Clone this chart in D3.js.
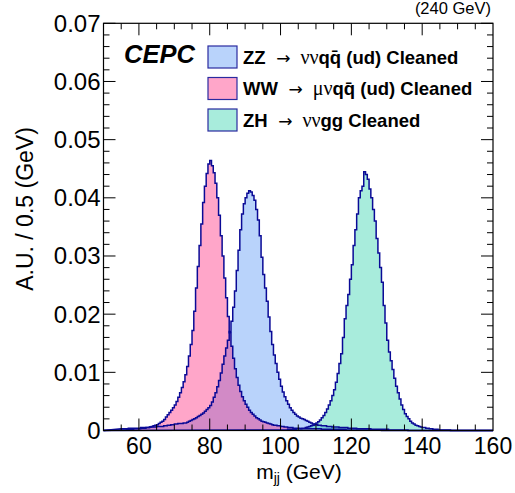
<!DOCTYPE html>
<html><head><meta charset="utf-8">
<script src="https://cdn.jsdelivr.net/npm/d3@7"></script>
<style>body{margin:0;background:#fff}svg{display:block}</style>
</head><body>
<script>
// ---- data ----
const binWidth = 0.5;
const xDomain = [50, 160];
const yDomain = [0, 0.07];
const xTicks = [60, 80, 100, 120, 140, 160];
const yTicks = [0, 0.01, 0.02, 0.03, 0.04, 0.05, 0.06, 0.07];
const yTickLabels = ["0", "0.01", "0.02", "0.03", "0.04", "0.05", "0.06", "0.07"];

const zzStart = 55;
const zzValues = [
 0.0003,0.0003,0.0003,0.0003,0.0004,0.0004,0.0004,0.0004,0.0004,0.0004,
 0.0004,0.0005,0.0005,0.0005,0.0005,0.0005,0.0006,0.0006,
 0.0006,0.0006,0.0007,0.0007,0.0007,0.0007,0.0008,0.0008,
 0.0009,0.0009,0.0010,0.0010,0.0011,0.0011,0.0012,0.0012,
 0.0012,0.0013,0.0013,0.0014,0.0016,0.0017,0.0019,0.0020,
 0.0022,0.0024,0.0026,0.0028,0.0030,0.0033,0.0036,0.0039,
 0.0043,0.0049,0.0057,0.0065,0.0075,0.0086,0.0099,0.0114,
 0.0128,0.0142,0.0155,0.0170,0.0188,0.0212,0.0240,0.0275,
 0.0310,0.0345,0.0372,0.0390,0.0400,0.0408,0.0412,0.0410,
 0.0404,0.0396,0.0380,0.0362,0.0335,0.0298,0.0268,0.0245,
 0.0222,0.0195,0.0170,0.0148,0.0130,0.0115,0.0100,0.0088,
 0.0076,0.0066,0.0058,0.0051,0.0045,0.0039,0.0035,0.0031,
 0.0028,0.0025,0.0023,0.0021,0.0020,0.0019,0.0017,0.0016,
 0.0014,0.0013,0.0011,0.0010,0.0010,0.0009,0.0009,0.0008,
 0.0008,0.0008,0.0007,0.0007,0.0007,0.0006,0.0006,0.0006,
 0.0006,0.0005,0.0005,0.0005,0.0005,0.0005,0.0004,0.0004,
 0.0004,0.0004,0.0004,0.0003,0.0003,0.0003,0.0003,0.0003,
 0.0003,0.0003,0.0003,0.0002,0.0002,0.0002,0.0002,0.0002,
 0.0002,0.0002,0.0002,0.0002,0.0002,0.0001,0.0001,0.0001,
 0.0001,0.0001,0.0001,0.0001,0.0001,0.0001,0.0001,0.0001
];

const wwStart = 55;
const wwValues = [
 0.0001,0.0001,0.0001,0.0002,0.0002,0.0002,0.0002,0.0003,0.0003,0.0003,
 0.0003,0.0004,0.0004,0.0004,0.0005,0.0005,0.0006,0.0007,0.0008,0.0009,
 0.0010,0.0012,0.0014,0.0016,0.0019,0.0023,0.0027,0.0031,0.0035,0.0039,
 0.0044,0.0050,0.0057,0.0065,0.0074,0.0084,0.0096,0.0110,0.0128,0.0148,
 0.0172,0.0205,0.0245,0.0282,0.0318,0.0355,0.0392,0.0420,0.0442,0.0458,
 0.0464,0.0455,0.0443,0.0425,0.0400,0.0370,0.0335,0.0300,0.0262,0.0228,
 0.0196,0.0168,0.0145,0.0124,0.0106,0.0091,0.0078,0.0067,0.0058,0.0051,
 0.0045,0.0040,0.0035,0.0031,0.0028,0.0025,0.0022,0.0020,0.0018,0.0016,
 0.0015,0.0014,0.0013,0.0012,0.0011,0.0010,0.0009,0.0009,0.0008,0.0008,
 0.0007,0.0007,0.0006,0.0006,0.0005,0.0005,0.0005,0.0004,0.0004,0.0004,
 0.0004,0.0003,0.0003,0.0003,0.0003,0.0003,0.0003,0.0003,0.0003,0.0003,
 0.0003,0.0003,0.0003,0.0002,0.0002,0.0002,0.0002,0.0002,0.0002,0.0002,
 0.0002,0.0002,0.0002,0.0002,0.0002,0.0002,0.0002,0.0001,0.0001,0.0001,
 0.0001,0.0001,0.0001,0.0001,0.0001,0.0001,0.0001,0.0001,0.0001,0.0001,
 0.0001,0.0001,0.0001,0.0001,0.0001,0.0001,0.0001
];

const zhStart = 100;
const zhValues = [
 0.0001,0.0001,0.0001,0.0001,0.0002,0.0002,0.0002,0.0002,
 0.0002,0.0003,0.0003,0.0003,0.0004,0.0004,0.0005,0.0006,
 0.0007,0.0008,0.0009,0.0011,0.0013,0.0015,0.0018,0.0022,
 0.0026,0.0031,0.0037,0.0044,0.0051,0.0060,0.0070,0.0083,
 0.0098,0.0115,0.0132,0.0160,0.0192,0.0215,0.0234,0.0260,
 0.0285,0.0318,0.0345,0.0372,0.0400,0.0412,0.0420,0.0445,
 0.0440,0.0432,0.0415,0.0400,0.0380,0.0360,0.0330,0.0305,
 0.0280,0.0255,0.0215,0.0185,0.0155,0.0135,0.0120,0.0105,
 0.0090,0.0076,0.0065,0.0054,0.0044,0.0036,0.0029,0.0024,
 0.0020,0.0016,0.0013,0.0011,0.0009,0.0008,0.0007,0.0006,
 0.0005,0.0005,0.0004,0.0004,0.0003,0.0003,0.0002,0.0002,
 0.0002,0.0001,0.0001,0.0001,0.0001,0.0001,0.0001,0.0001
];

const series = [
  {name:"ZZ", start:zzStart, values:zzValues, fill:"rgba(62,134,244,0.364)"},
  {name:"WW", start:wwStart, values:wwValues, fill:"rgba(255,10,106,0.364)"},
  {name:"ZH", start:zhStart, values:zhValues, fill:"rgba(16,202,159,0.364)"}
];
const lineColor = "#0a0a96";

// ---- layout ----
const W = 515, H = 493;
const L = 103.5, R = 493, T = 23.3, B = 430.5;
const svg = d3.select("body").append("svg").attr("width", W).attr("height", H);
const x = d3.scaleLinear().domain(xDomain).range([L, R]);
const y = d3.scaleLinear().domain(yDomain).range([B, T]);

function histPath(s) {
  const p = d3.path();
  p.moveTo(x(xDomain[0]), y(0));
  s.values.forEach((v, i) => {
    const lo = s.start + i * binWidth, hi = lo + binWidth;
    p.lineTo(x(lo), y(v));
    p.lineTo(x(hi), y(v));
  });
  p.lineTo(x(s.start + s.values.length * binWidth), y(0));
  p.lineTo(x(xDomain[1]), y(0));
  return p.toString();
}

const g = svg.append("g");
series.forEach(s => {
  g.append("path").attr("d", histPath(s) + "Z").attr("fill", s.fill).attr("stroke", "none");
});
series.forEach(s => {
  g.append("path").attr("d", histPath(s)).attr("fill", "none")
    .attr("stroke", lineColor).attr("stroke-width", 1.5).attr("stroke-linejoin", "miter");
});

// ---- axes (ROOT style, inside ticks, mirrored) ----
const fontSans = "'Liberation Sans', Arial, Helvetica, sans-serif";
const ax = svg.append("g");
d3.range(55, 160, 5).forEach(v => {
  const len = xTicks.includes(v) ? 12 : 6;
  ax.append("line").attr("x1", x(v)).attr("x2", x(v)).attr("y1", B).attr("y2", B - len).attr("stroke", "#000");
  ax.append("line").attr("x1", x(v)).attr("x2", x(v)).attr("y1", T).attr("y2", T + len).attr("stroke", "#000");
});
d3.range(0, 36).forEach(k => {
  const v = k * 0.002;
  const len = (k % 5 === 0) ? 12 : 6;
  ax.append("line").attr("x1", L).attr("x2", L + len).attr("y1", y(v)).attr("y2", y(v)).attr("stroke", "#000");
  ax.append("line").attr("x1", R).attr("x2", R - len).attr("y1", y(v)).attr("y2", y(v)).attr("stroke", "#000");
});
ax.append("rect").attr("x", L).attr("y", T).attr("width", R - L).attr("height", B - T)
  .attr("fill", "none").attr("stroke", "#000").attr("stroke-width", 1.2);

// tick labels
svg.append("g").selectAll("text").data(xTicks).join("text")
  .attr("x", d => x(d)).attr("y", B + 23).attr("text-anchor", "middle")
  .attr("font-family", fontSans).attr("font-size", 23).text(d => d);
svg.append("g").selectAll("text").data(yTicks).join("text")
  .attr("x", L - 3).attr("y", d => y(d) + 8.5).attr("text-anchor", "end")
  .attr("font-family", fontSans).attr("font-size", 24).text((d, i) => yTickLabels[i]);

// axis titles
const xt = svg.append("text").attr("x", 299).attr("y", 479).attr("text-anchor", "middle")
  .attr("font-family", fontSans).attr("font-size", 21);
xt.append("tspan").text("m");
xt.append("tspan").attr("font-size", 14).attr("dy", 4).text("jj");
xt.append("tspan").attr("dy", -4).text(" (GeV)");

svg.append("text").attr("transform", "translate(33,209) rotate(-90)").attr("text-anchor", "middle")
  .attr("font-family", fontSans).attr("font-size", 23).text("A.U. / 0.5 (GeV)");

svg.append("text").attr("x", 491).attr("y", 14).attr("text-anchor", "end")
  .attr("font-family", fontSans).attr("font-size", 16.5).text("(240 GeV)");

svg.append("text").attr("x", 124).attr("y", 63).attr("font-family", fontSans)
  .attr("font-size", 25.5).attr("font-weight", "bold").attr("font-style", "italic").text("CEPC");

// legend
const serif = "'Liberation Serif', 'DejaVu Serif', serif";
const legend = [
  {fill: series[0].fill, parts: [["ZZ ", "b"], [" \u2192", "a"], ["  \u03bd\u03bd", "s"], ["qq\u0304", "b"], [" (ud) Cleaned", "b"]]},
  {fill: series[1].fill, parts: [["WW ", "b"], [" \u2192", "a"], ["  \u03bc\u03bd", "s"], ["qq\u0304", "b"], [" (ud) Cleaned", "b"]]},
  {fill: series[2].fill, parts: [["ZH ", "b"], [" \u2192", "a"], ["  \u03bd\u03bd", "s"], ["gg Cleaned", "b"]]}
];
legend.forEach((d, i) => {
  const yy = 46 + i * 31.5;
  svg.append("rect").attr("x", 208).attr("y", yy).attr("width", 29).attr("height", 22)
    .attr("fill", d.fill).attr("stroke", "#2a2aa0").attr("stroke-width", 1.2);
  const t = svg.append("text").attr("x", 243).attr("y", yy + 17.5).attr("font-size", 18.5)
    .attr("xml:space", "preserve").style("white-space", "pre");
  d.parts.forEach(p => {
    const ts = t.append("tspan").text(p[0]);
    if (p[1] === "b") ts.attr("font-family", fontSans).attr("font-weight", "bold").attr("font-size", 18.5);
    else if (p[1] === "a") ts.attr("font-family", "'DejaVu Sans', sans-serif").attr("font-size", 17);
    else ts.attr("font-family", serif).attr("font-size", 20);
  });
});
</script>
</body></html>
